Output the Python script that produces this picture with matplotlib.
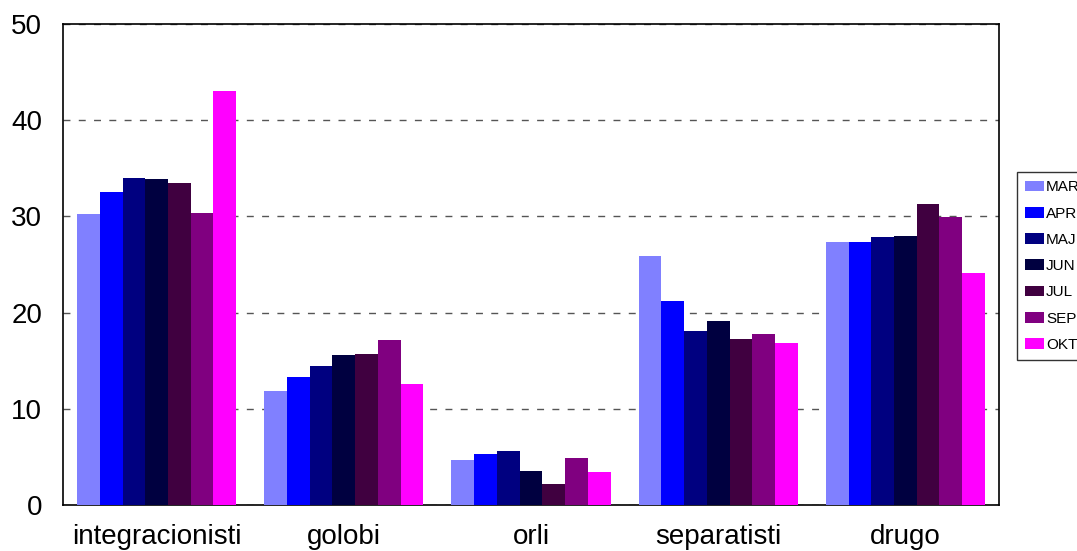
import numpy as np
import matplotlib
matplotlib.use('Agg')
import matplotlib.pyplot as plt

plt.rcParams['font.family'] = ['Liberation Sans', 'DejaVu Sans']

# podatki
categories = ['integracionisti', 'golobi', 'orli', 'separatisti', 'drugo']
months = ['MAR', 'APR', 'MAJ', 'JUN', 'JUL', 'SEP', 'OKT']
colors = ['#8080FF', '#0000FF', '#000080', '#000040', '#400040', '#800080', '#FF00FF']

MAR = [30.3, 11.8, 4.7, 25.9, 27.3]
APR = [32.5, 13.3, 5.3, 21.2, 27.3]
MAJ = [34.0, 14.4, 5.6, 18.1, 27.9]
JUN = [33.9, 15.6, 3.5, 19.1, 28.0]
JUL = [33.5, 15.7, 2.2, 17.3, 31.3]
SEP = [30.4, 17.1, 4.9, 17.8, 29.9]
OKT = [43.0, 12.6, 3.4, 16.8, 24.1]
series = [MAR, APR, MAJ, JUN, JUL, SEP, OKT]

fig = plt.figure(figsize=(10.77, 5.51), dpi=100)
ax = fig.add_axes([63/1077, 1-505/551, (999-63)/1077, (505-24)/551])

x = np.arange(len(categories))
w = 0.85 / len(months)
for i, (vals, name) in enumerate(zip(series, months)):
    ax.bar(x - 0.425 + w*(i+0.5), vals, width=w, color=colors[i], label=name,
           linewidth=0, zorder=3)

ax.set_xlim(-0.5, len(categories)-0.5)
ax.set_ylim(0, 50)
ax.set_yticks(range(0, 51, 10))
ax.set_xticks(x)
ax.set_xticklabels(categories)
ax.tick_params(axis='both', length=0, labelsize=20)
ax.tick_params(axis='x', pad=14)
ax.tick_params(axis='y', pad=15)
ax.yaxis.grid(True, linestyle=(0, (5, 6)), color='#555555', linewidth=1, zorder=0)
for s in ax.spines.values():
    s.set_color('black')
    s.set_linewidth(1.2)

leg = fig.legend(loc='upper left', bbox_to_anchor=(1017/1077, 1-172/551),
                 frameon=True, fancybox=False, fontsize=11, handlelength=1.2,
                 handleheight=0.7, handletextpad=0.15, labelspacing=0.8,
                 borderpad=0.55, borderaxespad=0)
leg.get_frame().set_edgecolor('black')
leg.get_frame().set_linewidth(1)

plt.savefig('out.png', dpi=100)
